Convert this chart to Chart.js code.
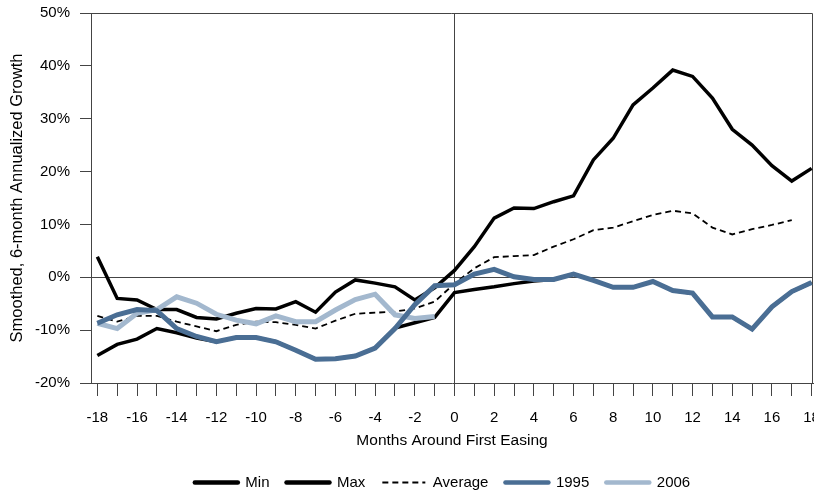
<!DOCTYPE html>
<html>
<head>
<meta charset="utf-8">
<script src="https://cdn.jsdelivr.net/npm/chart.js@4/dist/chart.umd.min.js"></script>
<style>
  html, body { margin: 0; padding: 0; background: #fff; }
  #wrap { width: 814px; height: 491px; position: relative; }
</style>
</head>
<body>
<div id="wrap"><canvas id="easingChart"></canvas></div>
<script>
const months = [-18,-17,-16,-15,-14,-13,-12,-11,-10,-9,-8,-7,-6,-5,-4,-3,-2,-1,0,1,2,3,4,5,6,7,8,9,10,11,12,13,14,15,16,17,18];

const minSeries = [-14.8,-12.7,-11.7,-9.7,-10.5,-11.5,-12.2,-11.4,-11.4,-12.2,-13.8,-15.5,-15.4,-14.9,-13.4,-9.6,-8.6,-7.6,
  -2.9,-2.3,-1.8,-1.2,-0.7,-0.4,0.6,-0.6,-1.9,-1.9,-0.8,-2.5,-3.0,-7.5,-7.5,-9.8,-5.6,-2.7,-1.0];
const maxSeries = [3.9,-4.0,-4.3,-6.1,-6.1,-7.6,-7.9,-6.8,-5.9,-6.0,-4.6,-6.6,-2.8,-0.5,-1.1,-1.8,-4.3,-2.0,
  1.3,5.8,11.2,13.1,13.0,14.3,15.4,22.2,26.3,32.6,35.8,39.2,38.0,33.9,28.0,25.0,21.1,18.2,20.6];
const avgSeries = [-7.3,-8.4,-7.3,-7.3,-8.4,-9.3,-10.2,-9.0,-8.4,-8.5,-9.0,-9.7,-8.2,-6.9,-6.7,-6.5,-5.9,-4.6,
  -1.2,1.7,3.8,4.0,4.2,5.8,7.2,8.9,9.4,10.6,11.8,12.6,12.1,9.4,8.1,9.1,9.9,10.8,null];
const s1995 = [-8.7,-7.1,-6.1,-6.3,-9.7,-11.2,-12.2,-11.4,-11.4,-12.2,-13.8,-15.5,-15.4,-14.9,-13.4,-9.7,-5.2,-1.6,
  -1.4,0.6,1.5,0.1,-0.4,-0.4,0.6,-0.6,-1.9,-1.9,-0.8,-2.5,-3.0,-7.5,-7.5,-9.8,-5.6,-2.7,-1.0];
const s2006 = [-8.7,-9.7,-6.8,-6.1,-3.7,-4.9,-7.0,-8.1,-8.8,-7.3,-8.4,-8.4,-6.2,-4.2,-3.2,-7.1,-7.8,-7.4,
  null,null,null,null,null,null,null,null,null,null,null,null,null,null,null,null,null,null,null];

const yTicks = [-20,-10,0,10,20,30,40,50];

const AXIS = '#444';
const FONT = "'Liberation Sans', Arial, sans-serif";

const pts = arr => months.map((m, i) => ({ x: m, y: arr[i] }));

// top and right edges of the plot box, legend nudged to sit under the plot
const frame = {
  id: 'frame',
  afterLayout(chart) {
    if (chart.legend) { chart.legend.left += 36; chart.legend.right += 36; }
  },
  beforeDatasetsDraw(chart) {
    const { ctx, chartArea: a } = chart;
    ctx.save();
    ctx.strokeStyle = AXIS;
    ctx.lineWidth = 1;
    ctx.beginPath();
    ctx.moveTo(a.left, a.top + 0.5);
    ctx.lineTo(a.right - 0.5, a.top + 0.5);
    ctx.lineTo(a.right - 0.5, a.bottom);
    ctx.stroke();
    ctx.restore();
  }
};

new Chart(document.getElementById('easingChart'), {
  type: 'line',
  data: {
    datasets: [
      { label: 'Min', data: pts(minSeries), borderColor: '#000', backgroundColor: '#000', borderWidth: 3.5, order: 4 },
      { label: 'Max', data: pts(maxSeries), borderColor: '#000', backgroundColor: '#000', borderWidth: 3.5, order: 3 },
      { label: 'Average', data: pts(avgSeries), borderColor: '#000', backgroundColor: '#000', borderWidth: 1.8, borderDash: [6, 4], order: 2 },
      { label: '1995', data: pts(s1995), borderColor: '#4a6e94', backgroundColor: '#4a6e94', borderWidth: 5, order: 0 },
      { label: '2006', data: pts(s2006), borderColor: '#a3b8ce', backgroundColor: '#a3b8ce', borderWidth: 5, order: 1 }
    ]
  },
  options: {
    responsive: true,
    maintainAspectRatio: false,
    animation: false,
    spanGaps: false,
    elements: { point: { radius: 0 }, line: { tension: 0, borderJoinStyle: 'miter' } },
    layout: { padding: { top: 13, right: 1, left: 0, bottom: -9 } },
    plugins: {
      tooltip: { enabled: false },
      legend: {
        position: 'bottom',
        labels: {
          usePointStyle: true,
          pointStyle: 'line',
          pointStyleWidth: 43,
          boxHeight: 15,
          padding: 17,
          color: '#000',
          font: { family: FONT, size: 15 },
          sort: (a, b) => a.datasetIndex - b.datasetIndex,
          generateLabels: chart => {
            const items = Chart.defaults.plugins.legend.labels.generateLabels(chart);
            items.forEach(it => {
              const ds = chart.data.datasets[it.datasetIndex];
              it.lineDash = ds.borderDash || [];
              it.lineWidth = ds.borderDash ? 2 : 4.5;
              it.lineCap = ds.borderDash ? 'butt' : 'round';
            });
            return items;
          }
        }
      }
    },
    scales: {
      x: {
        type: 'linear',
        min: -18.32,
        max: 18.07,
        afterBuildTicks: s => { s.ticks = months.map(v => ({ value: v })); },
        afterFit: s => { s.paddingLeft = 0; s.paddingRight = 0; s.height = 75; },
        ticks: {
          autoSkip: false,
          maxRotation: 0,
          padding: 13,
          color: '#000',
          font: { family: FONT, size: 15 },
          callback: v => (v % 2 === 0 ? String(v) : '')
        },
        grid: {
          drawOnChartArea: true,
          tickLength: 13,
          tickColor: AXIS,
          color: c => (c.tick && c.tick.value === 0 ? AXIS : 'rgba(0,0,0,0)')
        },
        border: { display: true, color: AXIS, width: 1 },
        title: {
          display: true,
          text: 'Months Around First Easing',
          color: '#000',
          font: { family: FONT, size: 15.5 },
          padding: { top: 2, bottom: 8 }
        }
      },
      y: {
        min: -20,
        max: 50,
        afterBuildTicks: s => { s.ticks = yTicks.map(v => ({ value: v })); },
        afterFit: s => { s.width = 91; s.paddingTop = 0; s.paddingBottom = 0; },
        ticks: {
          padding: 10,
          color: '#000',
          font: { family: FONT, size: 15 },
          callback: v => v + '%'
        },
        grid: {
          drawOnChartArea: true,
          tickLength: 11,
          tickColor: AXIS,
          color: c => (c.tick && c.tick.value === 0 ? AXIS : 'rgba(0,0,0,0)')
        },
        border: { display: true, color: AXIS, width: 1 },
        title: {
          display: true,
          text: 'Smoothed, 6-month Annualized Growth',
          color: '#000',
          font: { family: FONT, size: 16.5 },
          padding: { top: 8, bottom: 0 }
        }
      }
    }
  },
  plugins: [frame]
});
</script>
</body>
</html>
